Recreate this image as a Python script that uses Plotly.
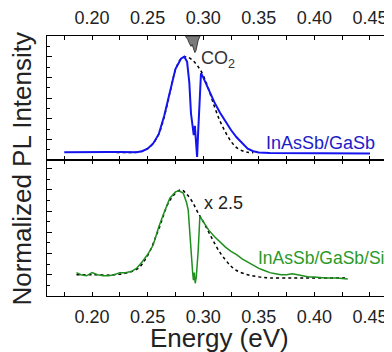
import plotly.graph_objects as go

# ---------------- data ----------------
# Top panel: InAsSb/GaSb (normalized PL)
energy_top = [0.175, 0.185, 0.195, 0.200, 0.205, 0.215, 0.225, 0.235, 0.240, 0.245,
              0.250, 0.255, 0.260, 0.265, 0.270, 0.275, 0.280, 0.283, 0.2855, 0.2875,
              0.289, 0.2905, 0.2915, 0.2925, 0.2935, 0.2945, 0.2955, 0.2968, 0.298,
              0.300, 0.305, 0.310, 0.315, 0.320, 0.325, 0.330, 0.335, 0.340, 0.345,
              0.350, 0.360, 0.380, 0.400, 0.420, 0.440, 0.450]
pl_top = [0.075, 0.076, 0.078, 0.082, 0.080, 0.078, 0.077, 0.075, 0.075, 0.085,
          0.11, 0.16, 0.25, 0.43, 0.66, 0.88, 0.98, 1.00, 0.95, 0.75,
          0.45, 0.28, 0.24, 0.33, 0.18, 0.03, 0.28, 0.62, 0.84,
          0.80, 0.68, 0.56, 0.46, 0.37, 0.29, 0.22, 0.16, 0.11, 0.085,
          0.072, 0.068, 0.066, 0.066, 0.066, 0.064, 0.062]

energy_top_fit = [0.222, 0.230, 0.240, 0.245, 0.250, 0.255, 0.260, 0.265, 0.270, 0.275,
                  0.280, 0.285, 0.290, 0.295, 0.300, 0.305, 0.310, 0.315, 0.320,
                  0.325, 0.330, 0.335, 0.340, 0.345]
fit_top = [0.072, 0.072, 0.074, 0.085, 0.11, 0.16, 0.25, 0.42, 0.65, 0.87,
           0.98, 1.00, 0.97, 0.91, 0.82, 0.68, 0.52, 0.38, 0.27,
           0.18, 0.12, 0.09, 0.075, 0.07]

# CO2 absorption band (hanging from top of the top panel)
co2_energy = [0.2840, 0.2860, 0.2875, 0.2890, 0.2900, 0.2912, 0.2925, 0.2935,
              0.2945, 0.2955, 0.2970]
co2_abs = [1.195, 1.17, 1.13, 1.10, 1.12, 1.07, 1.04, 1.06, 1.12, 1.16, 1.195]

# Bottom panel: InAsSb/GaSb/Si (x 2.5)
energy_bot = [0.186, 0.190, 0.195, 0.200, 0.205, 0.210, 0.215, 0.220, 0.225, 0.230,
              0.235, 0.240, 0.245, 0.250, 0.255, 0.260, 0.265, 0.270, 0.275, 0.278,
              0.282, 0.285, 0.2865, 0.288, 0.2895, 0.2905, 0.2912, 0.292, 0.2928,
              0.2938, 0.2955, 0.2970, 0.300, 0.305, 0.310, 0.315, 0.320, 0.325,
              0.330, 0.335, 0.340, 0.345, 0.350, 0.355, 0.360, 0.365, 0.370,
              0.375, 0.380, 0.385, 0.390, 0.395, 0.400, 0.410, 0.420, 0.430]
pl_bot = [0.22, 0.20, 0.19, 0.22, 0.20, 0.19, 0.19, 0.20, 0.22, 0.22,
          0.23, 0.26, 0.32, 0.39, 0.48, 0.65, 0.79, 0.92, 0.98, 0.99,
          0.97, 0.88, 0.81, 0.56, 0.29, 0.22, 0.15, 0.22, 0.12,
          0.18, 0.43, 0.75, 0.70, 0.62, 0.56, 0.51, 0.46, 0.42,
          0.39, 0.35, 0.32, 0.29, 0.26, 0.24, 0.22, 0.21, 0.20,
          0.20, 0.21, 0.20, 0.19, 0.18, 0.18, 0.17, 0.17, 0.16]

energy_bot_fit = [0.186, 0.200, 0.220, 0.240, 0.250, 0.260, 0.270, 0.280, 0.285, 0.290,
                  0.295, 0.300, 0.305, 0.310, 0.315, 0.320, 0.325, 0.330, 0.340,
                  0.350, 0.360, 0.380, 0.400, 0.430]
fit_bot = [0.20, 0.20, 0.20, 0.25, 0.38, 0.63, 0.90, 1.00, 0.96, 0.89,
           0.79, 0.70, 0.60, 0.50, 0.41, 0.34, 0.28, 0.24, 0.20,
           0.18, 0.17, 0.17, 0.17, 0.17]

x_ticks = [0.20, 0.25, 0.30, 0.35, 0.40, 0.45]
x_tick_labels = ["0.20", "0.25", "0.30", "0.35", "0.40", "0.45"]

# ---------------- figure ----------------
FONT = "Arial, Liberation Sans, sans-serif"
BLUE = "#1414ee"
GREEN = "#1f8f1f"
TOP_MAX = 1.2
BOT_MAX = 1.28

fig = go.Figure()

# CO2 band polygon built from the data (closed at the panel top)
co2_x = co2_energy + [co2_energy[-1], co2_energy[0]]
co2_y = co2_abs + [TOP_MAX, TOP_MAX]
fig.add_trace(go.Scatter(x=co2_x, y=co2_y, xaxis="x2", yaxis="y2", mode="lines",
                         fill="toself", fillcolor="#7a7a7a",
                         line=dict(color="#3a3a3a", width=1), showlegend=False))

fig.add_trace(go.Scatter(x=energy_top_fit, y=fit_top, xaxis="x2", yaxis="y2",
                         mode="lines", line=dict(color="black", width=1.5, dash="dot",
                                                 shape="spline"),
                         showlegend=False))
fig.add_trace(go.Scatter(x=energy_top, y=pl_top, xaxis="x2", yaxis="y2",
                         mode="lines", line=dict(color=BLUE, width=2),
                         showlegend=False))

fig.add_trace(go.Scatter(x=energy_bot_fit, y=fit_bot, xaxis="x", yaxis="y",
                         mode="lines", line=dict(color="black", width=1.5, dash="dot",
                                                 shape="spline"),
                         showlegend=False))
fig.add_trace(go.Scatter(x=energy_bot, y=pl_bot, xaxis="x", yaxis="y",
                         mode="lines", line=dict(color=GREEN, width=1.5),
                         showlegend=False))

x_range = [0.1595, 0.4698]
split = 0.523

common_x = dict(range=x_range, showline=True, linecolor="black", linewidth=1,
                mirror="ticks", ticks="inside", ticklen=4, tickcolor="black",
                tickvals=x_ticks, ticktext=x_tick_labels, automargin=False,
                ticklabelstandoff=4,
                minor=dict(ticks="inside", dtick=0.025, tick0=0.175, ticklen=4,
                           tickcolor="black"),
                showgrid=False, zeroline=False,
                tickfont=dict(family=FONT, size=18, color="#222"))
common_y = dict(showline=True, linecolor="black", linewidth=1, mirror=True,
                ticks="inside", ticklen=5, tickcolor="black", showticklabels=False,
                showgrid=False, zeroline=False, automargin=False)

# The page body has an 8 px default margin, so the figure is 8 px smaller
# and the margins are shifted accordingly.
fig.update_layout(
    width=384, height=344,
    margin=dict(l=39, r=0, t=28, b=56, autoexpand=False),
    paper_bgcolor="white", plot_bgcolor="white",
    xaxis=dict(anchor="y", side="bottom", **common_x),
    xaxis2=dict(anchor="y2", side="top", matches="x", **common_x),
    yaxis=dict(domain=[0, split], range=[0, BOT_MAX], dtick=0.2,
               minor=dict(ticks="inside", dtick=0.1, ticklen=3, tickcolor="black"),
               **common_y),
    yaxis2=dict(domain=[split, 1], range=[0, TOP_MAX], dtick=0.2,
                minor=dict(ticks="inside", dtick=0.1, ticklen=3, tickcolor="black"),
                **common_y),
    font=dict(family=FONT),
)

fig.add_annotation(text="Energy (eV)", xref="paper", yref="paper", x=0.5, y=-0.163,
                   xanchor="center", yanchor="middle", showarrow=False,
                   font=dict(family=FONT, size=26, color="#222"))
fig.add_annotation(text="Normalized PL Intensity", xref="paper", yref="paper",
                   x=-0.0725, y=0.49, xanchor="center", yanchor="middle", textangle=-90,
                   showarrow=False, font=dict(family=FONT, size=26, color="#222"))

fig.add_annotation(text="CO<sub>2</sub>", xref="x2", yref="y2", x=0.2963, y=0.97,
                   xanchor="left", yanchor="middle", showarrow=False,
                   font=dict(family=FONT, size=18, color="#333"))
fig.add_annotation(text="InAsSb/GaSb", xref="x2", yref="y2", x=0.4565, y=0.16,
                   xanchor="right", yanchor="middle", showarrow=False,
                   font=dict(family=FONT, size=18, color="#1c1cc8"))
fig.add_annotation(text="x 2.5", xref="x", yref="y", x=0.2985, y=0.88,
                   xanchor="left", yanchor="middle", showarrow=False,
                   font=dict(family=FONT, size=18, color="#222"))
fig.add_annotation(text="InAsSb/GaSb/Si", xref="x", yref="y", x=0.3472, y=0.36,
                   xanchor="left", yanchor="middle", showarrow=False,
                   font=dict(family=FONT, size=17.5, color="#2a9a2a"))

fig.write_html("out.html")
